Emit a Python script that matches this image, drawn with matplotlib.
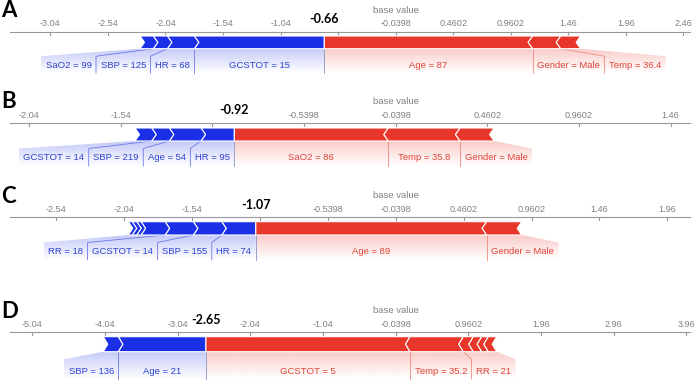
import numpy as np
import matplotlib
matplotlib.use('Agg')
import matplotlib.pyplot as plt
from matplotlib.patches import Polygon
from matplotlib.colors import to_rgb

plt.rcParams['font.family'] = ['Liberation Sans', 'DejaVu Sans']

# --- data ---
BASE = -0.0398
letters = ['A', 'B', 'C', 'D']
outputs = [-0.66, -0.92, -1.07, -2.65]
tick_steps = [0.5, 0.5, 0.5, 1.0]

# blue features, listed from the output value outward (to the left)
blue_labels = [
    ['GCSTOT = 15', 'HR = 68', 'SBP = 125', 'SaO2 = 99'],
    ['HR = 95', 'Age = 54', 'SBP = 219', 'GCSTOT = 14'],
    ['HR = 74', 'SBP = 155', 'GCSTOT = 14', 'RR = 18', '', '', ''],
    ['Age = 21', 'SBP = 136'],
]
blue_values = [
    [1.130, 0.234, 0.122, 0.115],
    [0.182, 0.173, 0.096, 0.091],
    [0.251, 0.209, 0.208, 0.177, 0.032, 0.033, 0.029],
    [1.206, 0.206],
]
# red features, listed from the output value outward (to the right)
red_labels = [
    ['Age = 87', 'Gender = Male', 'Temp = 36.4'],
    ['SaO2 = 86', 'Temp = 35.8', 'Gender = Male'],
    ['Age = 89', 'Gender = Male'],
    ['GCSTOT = 5', 'Temp = 35.2', 'RR = 21', '', '', ''],
]
red_values = [
    [1.810, 0.244, 0.173],
    [0.840, 0.391, 0.186],
    [1.700, 0.258],
    [2.807, 0.733, 0.138, 0.115, 0.091, 0.115],
]

# --- layout (pixels) ---
W, H = 699, 380
base_px = 395.7
px_per_unit = [115.1, 183.3, 135.8, 72.7]
axis_y = [31.7, 123.0, 217.3, 332.3]
bar_top_off = [4.3, 5.0, 4.4, 4.4]
bar_bot_off = [17.0, 18.0, 17.7, 19.4]
label_off = [33.6, 35.0, 34.4, 38.7]

BLUE = '#1b30e6'
RED = '#e8372a'
BLUE_TXT = '#2f43cf'
RED_TXT = '#e0463a'
GRAY = '#999999'

fig = plt.figure(figsize=(W / 100, H / 100), dpi=100)
renderer = fig.canvas.get_renderer()


def shade(ax, pts, color):
    poly = Polygon(pts, closed=True, facecolor='none', edgecolor='none')
    ax.add_patch(poly)
    xs = [p[0] for p in pts]
    ys = [p[1] for p in pts]
    grad = np.zeros((64, 1, 4))
    grad[..., :3] = to_rgb(color)
    grad[:, 0, 3] = np.linspace(0.26, 0.0, 64)
    im = ax.imshow(grad, extent=(min(xs), max(xs), max(ys), min(ys)), origin='upper',
                   aspect='auto', interpolation='bilinear', zorder=1)
    im.set_clip_path(poly)


def draw_side(ax, i, labels, values, d, bar_color, txt_color):
    s = px_per_unit[i]
    f = outputs[i]
    y0 = axis_y[i]
    top, bot = y0 + bar_top_off[i], y0 + bar_bot_off[i]
    mid = (top + bot) / 2
    ylab = y0 + label_off[i]
    ymid, ybot = bot + 7.5, ylab + 8
    h = 4.5 / s

    edges = [f]
    for v in values:
        edges.append(edges[-1] + d * v)

    # arrow segments
    for j in range(len(values)):
        inner, outer = edges[j], edges[j + 1]
        tip = inner - d * h if j > 0 else inner
        pts = [(outer, top), (inner, top), (tip, mid), (inner, bot), (outer, bot), (outer - d * h, mid)]
        ax.add_patch(Polygon(pts, closed=True, facecolor=bar_color, edgecolor='white',
                             linewidth=0.8, zorder=3))

    # labels laid out outward from the output value
    named = [j for j, lab in enumerate(labels) if lab]
    prev = f
    regions = []
    for j in named:
        a, b = edges[j], edges[j + 1]
        t = ax.text(a, ylab, labels[j], fontsize=6.8, color=txt_color, ha='center', va='center', zorder=4)
        w = (t.get_window_extent(renderer).width + 9) / s
        inner = max(a, prev) if d > 0 else min(a, prev)
        outer = inner + d * w
        if d * (b - outer) > 0:
            outer = b
        t.set_x((inner + outer) / 2)
        regions.append((inner, outer))
        prev = outer

    lc = '#6a78e8' if d < 0 else '#f08a7e'
    for k, j in enumerate(named):
        inner, outer = regions[k]
        seg_outer = edges[-1] if k == len(named) - 1 else edges[j + 1]
        pts = [(edges[j], bot), (seg_outer, bot), (outer, ymid), (outer, ybot), (inner, ybot), (inner, ymid)]
        shade(ax, pts, bar_color)
        if k < len(named) - 1:
            ax.plot([edges[j + 1], outer, outer], [bot, ymid, ybot], color=lc, lw=0.6, zorder=2)
    ax.plot([f, f], [bot, ybot], color='#9aa0c8', lw=0.6, zorder=2)


for i in range(4):
    ax = fig.add_axes([0, 0, 1, 1])
    ax.set_autoscale_on(False)
    s = px_per_unit[i]
    x_lo = BASE - base_px / s
    x_hi = BASE + (W - base_px) / s
    ax.set_xlim(x_lo, x_hi)
    ax.set_ylim(H, 0)
    ax.axis('off')
    f = outputs[i]
    y0 = axis_y[i]

    # axis line and ticks
    ax.axhline(y0, xmin=10 / W, xmax=690 / W, color=GRAY, lw=0.8)
    step = tick_steps[i]
    left = BASE + (10 - base_px) / s
    right = BASE + (690 - base_px) / s
    for k in range(-12, 13):
        t = BASE + k * step
        if t < left or t > right:
            continue
        ax.plot([t, t], [y0, y0 + 3], color=GRAY, lw=0.8)
        if abs(t - f) * s < 25:
            continue
        ax.text(t, y0 - 8, '{:.4g}'.format(t), fontsize=6.6, color='#808080', ha='center', va='center')
    ax.text(BASE, y0 - 21.5, 'base value', fontsize=6.8, color='#808080', ha='center', va='center')
    ax.text(f, y0 - 12.5, '{:.2f}'.format(f), fontsize=9, fontweight='bold', family='Lato',
            color='black', ha='center', va='center')
    ax.text(BASE + (1 - base_px) / s, y0 - 21, letters[i], fontsize=16, fontweight='bold', family='Lato',
            color='black', ha='left', va='center')

    draw_side(ax, i, blue_labels[i], blue_values[i], -1, BLUE, BLUE_TXT)
    draw_side(ax, i, red_labels[i], red_values[i], 1, RED, RED_TXT)

fig.savefig('out.png', dpi=100)
